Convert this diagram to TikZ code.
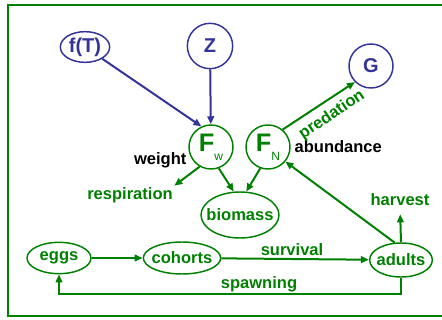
\documentclass[tikz,border=0pt]{standalone}
\usepackage{fontspec}
\setmainfont{Liberation Sans}
\usetikzlibrary{shapes.geometric,arrows.meta}
\definecolor{leaf}{RGB}{0,128,0}
\definecolor{ink}{RGB}{51,51,153}
\newcommand{\rateF}[1]{{\fontsize{19}{20}\selectfont\bfseries F}\raisebox{-7pt}{\fontsize{9}{10}\selectfont #1}}

\begin{document}
\begin{tikzpicture}[x=0.75pt,y=0.75pt,yscale=-1,xscale=1,
	txt/.style={font=\fontsize{12.4}{14}\selectfont\bfseries, inner sep=1pt},
	lbl/.style={txt, text=leaf},
	note/.style={txt, text=black},
	driver/.style={draw=ink, line width=1.1pt, text=ink, inner sep=0pt, font=\fontsize{15}{17}\selectfont\bfseries},
	pool/.style={txt, draw=leaf, line width=1.1pt, ellipse, text=leaf, inner xsep=-12pt, inner ysep=-4pt},
	rate/.style={draw=leaf, line width=1.1pt, circle, minimum size=33pt, inner sep=0pt, text=leaf},
	flow/.style={draw=leaf, line width=1.5pt, -{Triangle[length=6pt,width=5pt]}},
	push/.style={draw=ink, line width=1.5pt, -{Triangle[length=6pt,width=5pt]}}]
	\useasboundingbox (0,0) rectangle (442,320);
	\clip (0,0) rectangle (442,320);
	\draw [leaf, line width=2.2pt] (460,5) -- (8,5) -- (8,316) -- (460,316);

	\node [driver, ellipse, minimum width=37pt, minimum height=23pt] (fT) at (85,47) {f(T)};
	\node [driver, circle, minimum size=34pt] (Z) at (210,46) {Z};
	\node [driver, circle, minimum size=33pt] (G) at (371,66) {G};

	\node [rate] (Fw) at (211,147) {\rateF{w}};
	\node [rate] (FN) at (268,147) {\rateF{N}};
	\node [note, anchor=east] (weight) at (188,160) {weight};
	\node [note, anchor=west] (abund) at (293,147) {abundance};

	\node [pool, minimum width=58.5pt, minimum height=34.5pt] (bio) at (240,215) {biomass};
	\node [lbl] (resp) at (130,195) {respiration};
	\node [pool, minimum width=48pt, minimum height=23.5pt] (eggs) at (59,258) {eggs};
	\node [pool, minimum width=58pt, minimum height=24pt] (cohorts) at (182,258) {cohorts};
	\node [pool, minimum width=47pt, minimum height=25.5pt] (adults) at (401,260) {adults};
	\node [lbl] (harvest) at (400,200) {harvest};
	\node [lbl] (surv) at (292,250) {survival};
	\node [lbl] (spawn) at (259,284) {spawning};
	\node [lbl, rotate=34] (pred) at (332,115) {predation};

	\draw [push] (fT) -- (Fw.115);
	\draw [push] (Z) -- (Fw);
	\draw [flow] (FN.50) -- (G.225);
	\draw [flow] (Fw.240) -- (resp.north east);
	\draw [flow] (Fw.-70) -- (bio.105);
	\draw [flow] (FN.-110) -- (bio.75);
	\draw [flow] (eggs) -- (cohorts);
	\draw [flow] (cohorts) -- (adults);
	\draw [flow] (adults.110) -- (FN.-40);
	\draw [flow, shorten >=5pt] (adults.north) -- (harvest.south);
	\draw [flow] (adults.south) -- ++(0,16) -| (eggs.south);
\end{tikzpicture}
\end{document}
